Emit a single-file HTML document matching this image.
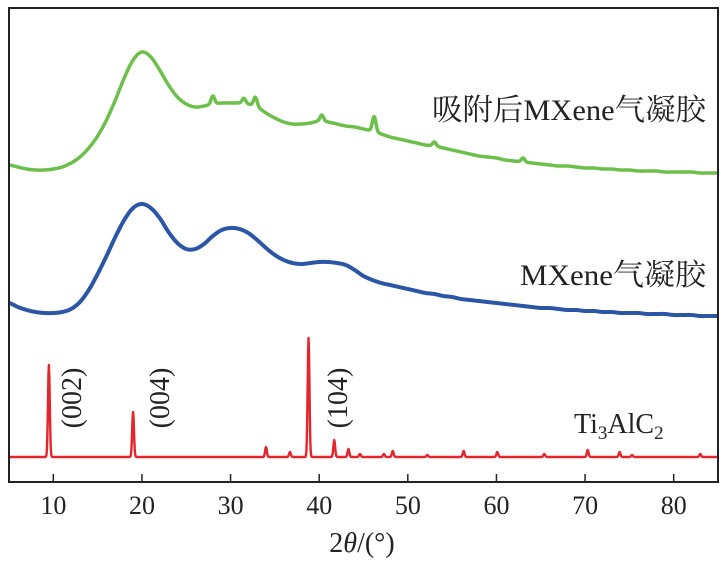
<!DOCTYPE html>
<html><head><meta charset="utf-8"><style>
html,body{margin:0;padding:0;background:#fff;}
svg{display:block;font-family:"Liberation Serif","Noto Serif CJK SC",serif;}
</style></head><body>
<svg id="chart" width="727" height="567" viewBox="0 0 727 567">
<g id="series"></g>
<rect x="9" y="8" width="709" height="474" fill="none" stroke="#222" stroke-width="2"/>
<g id="ticks"></g>
<text x="362" y="552" font-size="28" text-anchor="middle" fill="#222">2<tspan font-style="italic">θ</tspan>/(°)</text>
<text x="706" y="120" font-size="30" text-anchor="end" textLength="274" lengthAdjust="spacingAndGlyphs" fill="#222">吸附后MXene气凝胶</text>
<text x="706" y="285" font-size="30" text-anchor="end" textLength="186" lengthAdjust="spacingAndGlyphs" fill="#222">MXene气凝胶</text>
<text x="574" y="433" font-size="28" fill="#222">Ti<tspan font-size="19" dy="6">3</tspan><tspan dy="-6">AlC</tspan><tspan font-size="19" dy="6">2</tspan></text>
<text transform="translate(81,398) rotate(-90)" font-size="28" text-anchor="middle" fill="#222">(002)</text>
<text transform="translate(169,398) rotate(-90)" font-size="28" text-anchor="middle" fill="#222">(004)</text>
<text transform="translate(347,398) rotate(-90)" font-size="28" text-anchor="middle" fill="#222">(104)</text>
</svg>
<script>
const xTicks = [10,20,30,40,50,60,70,80];
const angles = Array.from({length:81},(_,i)=>5+i);
const greenBase = [165,167,169,170,170,169,167,163,157,148,136,120,100,78,60,52,57,70,85,97,104,107,106,104,103,103,103,104,107,113,118,122,124,124,123,121,122,124,126,127,129,131,134,137,139,141,143,145,146,148,150,152,154,156,157,158,160,161,162,163,164,165,166,166,167,168,168,169,169,170,170,171,171,171,172,172,172,172,173,173,173].map(v=>482-v);
const blueBase = [303,307,310,312,313,313,312,309,302,290,274,256,237,220,208,204,208,218,232,243,249,249,244,236,230,228,229,233,240,248,255,260,263,264,263,262,262,263,265,270,276,280,283,285,287,289,291,293,294,296,297,299,300,301,302,303,304,305,306,307,308,308,309,310,310,311,311,312,312,313,313,313,314,314,314,315,315,315,316,316,316].map(v=>482-v);
const redBaseLevel = 25;
const greenPeakPos = [28.0,31.5,32.8,40.3,46.2,53.0,63.0];
const greenPeakH = [8,5,9,6,15,4,4];
const redPeakPos = [9.5,19.0,34.0,36.7,38.8,41.7,43.3,44.6,47.3,48.3,52.2,56.3,60.1,65.4,70.3,73.9,75.3,83.0];
const redPeakH = [92,45,10,5,119,17,8,3,3,6,2,6,5,3,7,5,2,3];

const X = a => 9 + (a-5)*(709/80);
const Y = v => 482 - v;
function baseAt(arr,a){
  // Catmull-Rom through the sampled points for a smooth curve
  const i=Math.min(79,Math.floor(a-5));const t=a-5-i;
  const p0=arr[Math.max(0,i-1)],p1=arr[i],p2=arr[i+1],p3=arr[Math.min(80,i+2)];
  return 0.5*((2*p1)+(-p0+p2)*t+(2*p0-5*p1+4*p2-p3)*t*t+(-p0+3*p1-3*p2+p3)*t*t*t);
}
function pk(a,pos,h,s){let v=0;for(let i=0;i<pos.length;i++){const d=(a-pos[i])/s;v+=h[i]*Math.exp(-d*d/2);}return v;}
const g = document.getElementById('series');
function line(fn,color,w,name){
  let d='';
  for(let a=5;a<=85.0001;a+=0.05){d+=(d?'L':'M')+X(a).toFixed(2)+','+Y(fn(a)).toFixed(2);}
  const p=document.createElementNS('http://www.w3.org/2000/svg','path');
  p.setAttribute('d',d);p.setAttribute('fill','none');p.setAttribute('stroke',color);p.setAttribute('stroke-width',w);p.setAttribute('stroke-linejoin','round');
  
  
  g.appendChild(p);
}
line(a=>baseAt(greenBase,a)+pk(a,greenPeakPos,greenPeakH,0.2),'#6dbf4b',3.5,'series-adsorbed-mxene-aerogel');
line(a=>baseAt(blueBase,a),'#2b55a5',4,'series-mxene-aerogel');
line(a=>redBaseLevel+pk(a,redPeakPos,redPeakH,0.1),'#e3262c',2.4,'series-ti3alc2');
const t=document.getElementById('ticks');
xTicks.forEach(v=>{
  const l=document.createElementNS('http://www.w3.org/2000/svg','line');
  l.setAttribute('x1',X(v));l.setAttribute('x2',X(v));l.setAttribute('y1',482);l.setAttribute('y2',474);l.setAttribute('stroke','#222');l.setAttribute('stroke-width',1.5);
  
  
  t.appendChild(l);
  const tx=document.createElementNS('http://www.w3.org/2000/svg','text');
  tx.setAttribute('x',X(v));tx.setAttribute('y',514);tx.setAttribute('font-size',26);tx.setAttribute('text-anchor','middle');tx.setAttribute('fill','#222');
  tx.textContent=v;
  
  
  t.appendChild(tx);
});
</script>
</body></html>
